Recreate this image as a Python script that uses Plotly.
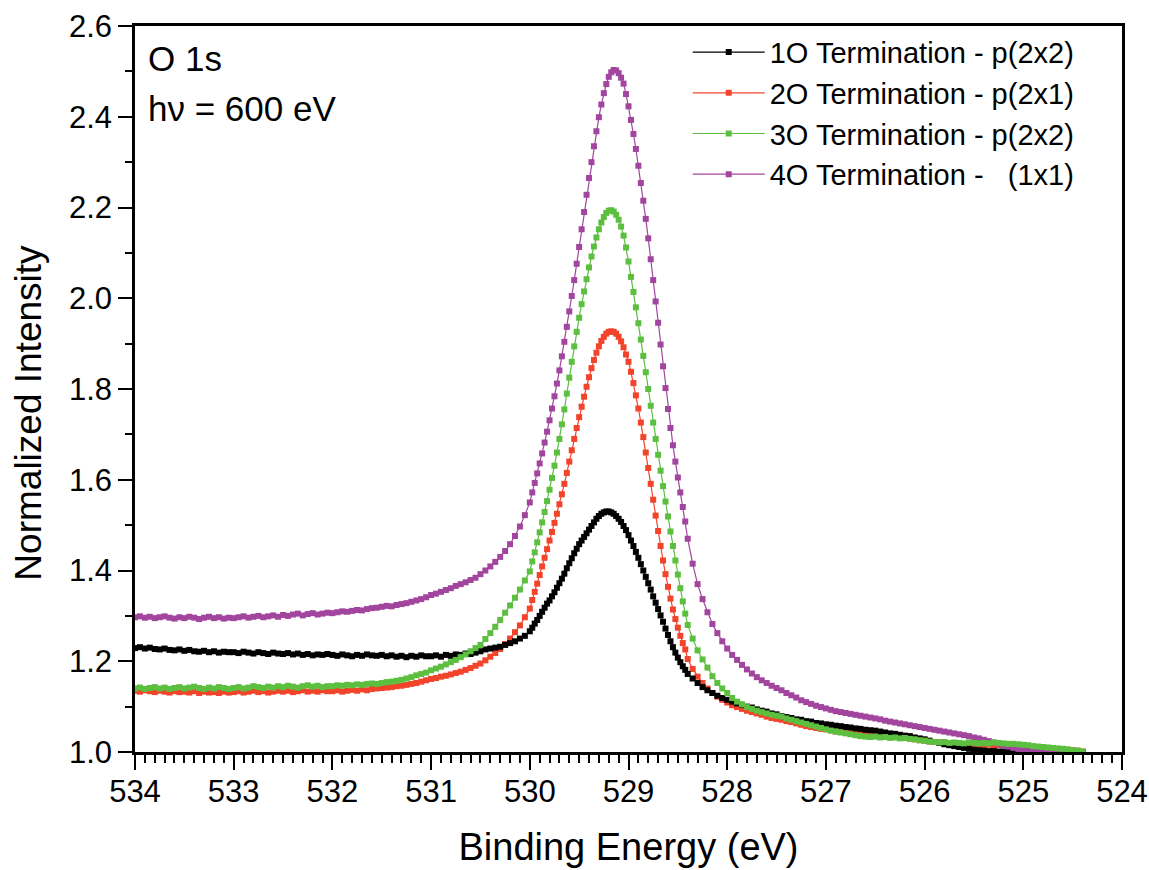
import numpy as np
import plotly.graph_objects as go

# Energy sampling grids (eV): coarse on the flat parts, finer across the O 1s peak
E_LEFT = np.linspace(534.0, 530.0, 81)
E_PEAK = np.linspace(529.975, 528.425, 63)
E_RIGHT = np.linspace(528.4, 524.4, 81)

black_left = [
    1.229, 1.231, 1.228, 1.230, 1.227, 1.226, 1.228, 1.225, 1.224, 1.226,
    1.223, 1.225, 1.222, 1.221, 1.223, 1.220, 1.222, 1.219, 1.221, 1.220,
    1.220, 1.218, 1.221, 1.219, 1.217, 1.220, 1.218, 1.216, 1.219, 1.217,
    1.216, 1.218, 1.215, 1.217, 1.214, 1.216, 1.213, 1.215, 1.214, 1.216,
    1.214, 1.212, 1.215, 1.213, 1.211, 1.214, 1.212, 1.215, 1.213, 1.212,
    1.214, 1.211, 1.213, 1.210, 1.212, 1.209, 1.212, 1.210, 1.213, 1.211,
    1.211, 1.213, 1.210, 1.214, 1.212, 1.215, 1.214, 1.217, 1.216, 1.219,
    1.222, 1.226, 1.228, 1.230, 1.232, 1.236, 1.240, 1.244, 1.250, 1.256,
    1.266]
black_peak = [
    1.274, 1.283, 1.291, 1.300, 1.309, 1.318, 1.327, 1.334, 1.343, 1.352,
    1.362, 1.372, 1.382, 1.393, 1.405, 1.416, 1.427, 1.438, 1.448, 1.458,
    1.466, 1.474, 1.482, 1.490, 1.498, 1.506, 1.514, 1.520, 1.525, 1.528,
    1.530, 1.530, 1.528, 1.525, 1.520, 1.514, 1.507, 1.498, 1.489, 1.478,
    1.466, 1.454, 1.441, 1.428, 1.414, 1.400, 1.386, 1.372, 1.358, 1.343,
    1.329, 1.315, 1.301, 1.287, 1.272, 1.258, 1.244, 1.231, 1.219, 1.208,
    1.198, 1.189, 1.181]
black_right = [
    1.172, 1.162, 1.152, 1.143, 1.136, 1.130, 1.124, 1.119, 1.115, 1.111,
    1.107, 1.104, 1.100, 1.098, 1.094, 1.091, 1.089, 1.085, 1.083, 1.079,
    1.077, 1.075, 1.072, 1.071, 1.068, 1.067, 1.064, 1.063, 1.061, 1.060,
    1.058, 1.057, 1.055, 1.054, 1.052, 1.051, 1.049, 1.048, 1.047, 1.045,
    1.043, 1.041, 1.040, 1.038, 1.036, 1.035, 1.032, 1.030, 1.028, 1.025,
    1.022, 1.020, 1.017, 1.015, 1.013, 1.011, 1.009, 1.007, 1.005, 1.004,
    1.003, 1.002, 1.002, 1.001, 1.001, 1.000, 1.001, 1.000, 1.000, 1.001,
    1.000, 1.000, 1.001, 1.000, 1.000, 1.000, 1.000, 1.000, 1.000, 1.000,
    1.000]

red_left = [
    1.135, 1.133, 1.136, 1.134, 1.132, 1.135, 1.133, 1.131, 1.134, 1.132,
    1.133, 1.131, 1.134, 1.130, 1.133, 1.131, 1.132, 1.130, 1.133, 1.131,
    1.132, 1.134, 1.131, 1.133, 1.135, 1.132, 1.134, 1.131, 1.133, 1.135,
    1.133, 1.135, 1.132, 1.134, 1.136, 1.133, 1.135, 1.133, 1.136, 1.134,
    1.134, 1.136, 1.133, 1.135, 1.137, 1.135, 1.138, 1.136, 1.139, 1.140,
    1.141, 1.142, 1.143, 1.145, 1.146, 1.148, 1.150, 1.152, 1.155, 1.158,
    1.161, 1.163, 1.166, 1.168, 1.171, 1.174, 1.177, 1.181, 1.185, 1.190,
    1.195, 1.202, 1.210, 1.218, 1.227, 1.238, 1.250, 1.264, 1.279, 1.297,
    1.316]
red_peak = [
    1.335, 1.353, 1.371, 1.390, 1.409, 1.428, 1.447, 1.466, 1.485, 1.505,
    1.525, 1.546, 1.568, 1.591, 1.615, 1.640, 1.665, 1.690, 1.714, 1.738,
    1.761, 1.783, 1.805, 1.826, 1.846, 1.864, 1.880, 1.894, 1.906, 1.915,
    1.922, 1.926, 1.927, 1.926, 1.922, 1.915, 1.905, 1.892, 1.876, 1.860,
    1.838, 1.813, 1.786, 1.757, 1.726, 1.694, 1.660, 1.626, 1.591, 1.556,
    1.521, 1.487, 1.454, 1.422, 1.392, 1.364, 1.338, 1.314, 1.293, 1.274,
    1.256, 1.240, 1.226]
red_right = [
    1.205, 1.183, 1.166, 1.152, 1.140, 1.130, 1.122, 1.115, 1.109, 1.103,
    1.099, 1.095, 1.091, 1.088, 1.085, 1.082, 1.078, 1.075, 1.073, 1.071,
    1.068, 1.066, 1.063, 1.060, 1.057, 1.055, 1.053, 1.051, 1.050, 1.048,
    1.045, 1.044, 1.043, 1.044, 1.042, 1.043, 1.041, 1.042, 1.040, 1.038,
    1.036, 1.035, 1.034, 1.032, 1.031, 1.030, 1.028, 1.026, 1.025, 1.023,
    1.022, 1.021, 1.020, 1.018, 1.017, 1.016, 1.015, 1.016, 1.015, 1.016,
    1.015, 1.016, 1.014, 1.015, 1.015, 1.014, 1.013, 1.012, 1.012, 1.011,
    1.010, 1.009, 1.008, 1.008, 1.007, 1.006, 1.005, 1.004, 1.004, 1.003,
    1.001]

green_left = [
    1.140, 1.142, 1.139, 1.141, 1.143, 1.140, 1.142, 1.139, 1.141, 1.143,
    1.140, 1.142, 1.144, 1.141, 1.139, 1.142, 1.140, 1.143, 1.141, 1.139,
    1.141, 1.143, 1.140, 1.142, 1.145, 1.143, 1.141, 1.144, 1.142, 1.145,
    1.143, 1.146, 1.144, 1.142, 1.145, 1.147, 1.144, 1.146, 1.143, 1.145,
    1.145, 1.147, 1.146, 1.148, 1.147, 1.149, 1.148, 1.150, 1.151, 1.150,
    1.152, 1.154, 1.155, 1.157, 1.159, 1.162, 1.165, 1.169, 1.172, 1.175,
    1.180, 1.184, 1.188, 1.193, 1.198, 1.203, 1.209, 1.215, 1.222, 1.229,
    1.236, 1.249, 1.262, 1.276, 1.291, 1.307, 1.323, 1.340, 1.358, 1.378,
    1.398]
green_peak = [
    1.420, 1.440, 1.462, 1.484, 1.506, 1.529, 1.553, 1.578, 1.604, 1.631,
    1.660, 1.690, 1.722, 1.755, 1.790, 1.825, 1.860, 1.894, 1.926, 1.957,
    1.987, 2.015, 2.042, 2.068, 2.092, 2.114, 2.134, 2.152, 2.167, 2.179,
    2.188, 2.193, 2.194, 2.191, 2.184, 2.173, 2.158, 2.138, 2.112, 2.081,
    2.047, 2.014, 1.980, 1.945, 1.909, 1.873, 1.837, 1.800, 1.763, 1.726,
    1.690, 1.655, 1.620, 1.586, 1.552, 1.519, 1.486, 1.454, 1.422, 1.391,
    1.361, 1.332, 1.305]
green_right = [
    1.280, 1.250, 1.224, 1.204, 1.186, 1.167, 1.152, 1.140, 1.130, 1.119,
    1.111, 1.105, 1.099, 1.095, 1.091, 1.088, 1.085, 1.082, 1.080, 1.078,
    1.074, 1.071, 1.068, 1.065, 1.062, 1.059, 1.056, 1.053, 1.050, 1.047,
    1.045, 1.043, 1.041, 1.039, 1.037, 1.035, 1.034, 1.033, 1.034, 1.032,
    1.033, 1.031, 1.032, 1.030, 1.031, 1.029, 1.028, 1.026, 1.025, 1.023,
    1.022, 1.021, 1.022, 1.020, 1.021, 1.020, 1.019, 1.021, 1.020, 1.019,
    1.020, 1.019, 1.021, 1.020, 1.019, 1.018, 1.018, 1.017, 1.016, 1.015,
    1.013, 1.012, 1.011, 1.010, 1.009, 1.008, 1.007, 1.006, 1.004, 1.003,
    1.001]

purple_left = [
    1.297, 1.299, 1.296, 1.298, 1.295, 1.297, 1.299, 1.296, 1.294, 1.297,
    1.295, 1.298, 1.296, 1.293, 1.296, 1.298, 1.295, 1.297, 1.294, 1.296,
    1.295, 1.297, 1.299, 1.296, 1.298, 1.300, 1.297, 1.299, 1.301, 1.298,
    1.302, 1.300, 1.303, 1.305, 1.301, 1.304, 1.306, 1.303, 1.305, 1.307,
    1.306, 1.308, 1.310, 1.309, 1.311, 1.313, 1.312, 1.315, 1.317, 1.318,
    1.320, 1.322, 1.321, 1.324, 1.326, 1.328, 1.331, 1.334, 1.337, 1.341,
    1.346, 1.349, 1.353, 1.357, 1.361, 1.366, 1.370, 1.374, 1.379, 1.384,
    1.392, 1.400, 1.409, 1.419, 1.430, 1.443, 1.458, 1.476, 1.497, 1.522,
    1.550]
purple_peak = [
    1.572, 1.593, 1.614, 1.636, 1.658, 1.682, 1.706, 1.731, 1.757, 1.784,
    1.812, 1.841, 1.872, 1.904, 1.937, 1.971, 2.005, 2.040, 2.076, 2.113,
    2.152, 2.190, 2.228, 2.265, 2.300, 2.335, 2.368, 2.399, 2.427, 2.452,
    2.472, 2.488, 2.498, 2.503, 2.502, 2.496, 2.486, 2.473, 2.450, 2.423,
    2.393, 2.362, 2.329, 2.292, 2.254, 2.215, 2.175, 2.132, 2.086, 2.040,
    1.993, 1.946, 1.898, 1.850, 1.802, 1.756, 1.714, 1.676, 1.640, 1.605,
    1.572, 1.540, 1.508]
purple_right = [
    1.470, 1.415, 1.370, 1.337, 1.308, 1.282, 1.262, 1.244, 1.228, 1.214,
    1.203, 1.192, 1.182, 1.173, 1.165, 1.158, 1.152, 1.146, 1.141, 1.136,
    1.130, 1.125, 1.120, 1.114, 1.110, 1.106, 1.102, 1.099, 1.096, 1.093,
    1.090, 1.088, 1.086, 1.084, 1.082, 1.080, 1.078, 1.076, 1.074, 1.072,
    1.069, 1.067, 1.065, 1.063, 1.061, 1.059, 1.057, 1.055, 1.053, 1.051,
    1.049, 1.047, 1.045, 1.043, 1.041, 1.039, 1.037, 1.035, 1.032, 1.030,
    1.027, 1.024, 1.021, 1.018, 1.015, 1.012, 1.009, 1.006, 1.004, 1.002,
    1.001, 1.000, 1.000, 1.001, 1.000, 1.000, 1.000, 1.000, 1.000, 1.000,
    1.000]

series_names = ["1O Termination - p(2x2)", "2O Termination - p(2x1)",
                "3O Termination - p(2x2)", "4O Termination -   (1x1)"]
series_colors = ["#000000", "#F2432B", "#5CBF3F", "#A2459E"]
series_values = [
    black_left + black_peak + black_right,
    red_left + red_peak + red_right,
    green_left + green_peak + green_right,
    purple_left + purple_peak + purple_right,
]
energy = np.concatenate([E_LEFT, E_PEAK, E_RIGHT])
for v in series_values:
    assert len(v) == len(energy), (len(v), len(energy))

FONT = "Arial, 'Liberation Sans', sans-serif"

fig = go.Figure()
draw_order = [1, 0, 3, 2]
for i in draw_order:
    fig.add_trace(go.Scatter(
        x=energy, y=series_values[i], name=series_names[i],
        mode="lines+markers", legendrank=i + 1,
        line=dict(color=series_colors[i], width=1.2),
        marker=dict(symbol="square", size=6, color=series_colors[i], line=dict(width=0)),
    ))

axis_common = dict(
    showline=True, linecolor="black", linewidth=2.5, mirror=True,
    ticks="outside", tickwidth=2, tickcolor="black",
    showgrid=False, zeroline=False, automargin=False,
    tickfont=dict(family=FONT, size=31, color="black"),
)
fig.update_xaxes(
    range=[534, 524], dtick=1, tick0=524, ticklen=15, ticklabelstandoff=-5,
    minor=dict(dtick=0.1, ticklen=8, tickwidth=1.5, ticks="outside", tickcolor="black"),
    title=dict(text="Binding Energy (eV)", font=dict(family=FONT, size=38, color="black"), standoff=26),
    **axis_common,
)
fig.update_yaxes(
    range=[1.0, 2.6], dtick=0.2, tick0=1.0, tickformat=".1f", ticklen=14,
    minor=dict(dtick=0.1, ticklen=7, tickwidth=1.5, ticks="outside", tickcolor="black"),
    **axis_common,
)

# y-axis title (placed slightly below the axis centre, as in the reference)
fig.add_annotation(x=-0.108, y=0.468, xref="paper", yref="paper", xanchor="center", yanchor="middle",
                   text="Normalized Intensity", textangle=-90, showarrow=False,
                   font=dict(family=FONT, size=37, color="black"))

fig.add_annotation(x=0.011, y=0.955, xref="paper", yref="paper", xanchor="left", yanchor="middle",
                   text="O 1s", showarrow=False, font=dict(family=FONT, size=35, color="black"))
fig.add_annotation(x=0.011, y=0.886, xref="paper", yref="paper", xanchor="left", yanchor="middle",
                   text="hν = 600 eV", showarrow=False, font=dict(family=FONT, size=35, color="black"))

fig.update_layout(
    width=1149, height=870,
    margin=dict(l=135, r=27, t=26, b=118),
    plot_bgcolor="white", paper_bgcolor="white",
    font=dict(family=FONT, color="black"),
    legend=dict(x=0.560, y=0.999, xanchor="left", yanchor="top",
                font=dict(family=FONT, size=29, color="black"),
                bgcolor="rgba(0,0,0,0)", tracegroupgap=0, itemwidth=72),
)

fig.write_html("out.html")
